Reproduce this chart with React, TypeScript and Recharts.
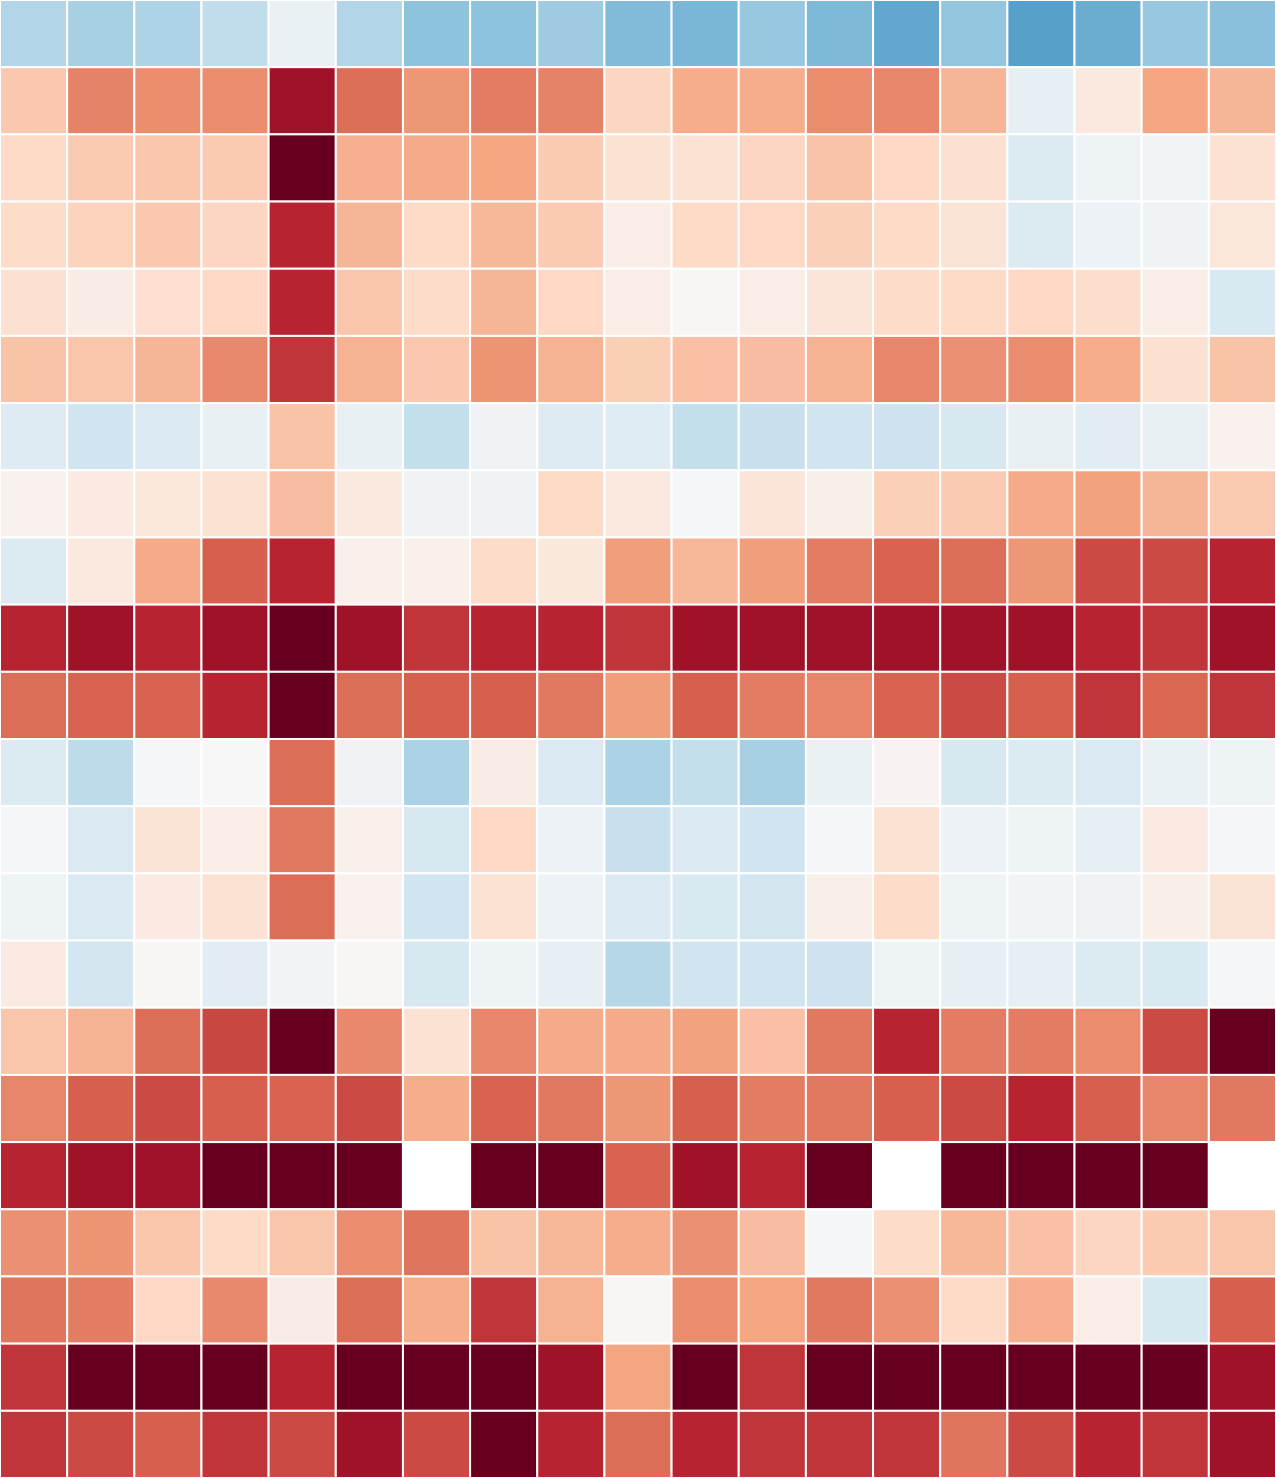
import { ScatterChart, Scatter, XAxis, YAxis } from 'recharts';

const WIDTH = 1276;
const HEIGHT = 1478;

const columns = Array.from({ length: 19 }, (_, i) => `C${i + 1}`);
const rowLabels = Array.from({ length: 22 }, (_, i) => `R${i + 1}`);

// one entry per row, one value per column (null = no data)
const values: (number | null)[][] = [
  [-0.3, -0.33, -0.31, -0.25, -0.07, -0.3, -0.41, -0.41, -0.36, -0.44, -0.46, -0.38, -0.45, -0.52, -0.4, -0.55, -0.5, -0.38, -0.42],
  [0.27, 0.5, 0.47, 0.47, 0.85, 0.56, 0.44, 0.52, 0.5, 0.22, 0.37, 0.37, 0.47, 0.49, 0.34, -0.09, 0.1, 0.4, 0.34],
  [0.2, 0.26, 0.28, 0.26, 1.0, 0.36, 0.38, 0.4, 0.26, 0.15, 0.15, 0.22, 0.29, 0.21, 0.16, -0.14, -0.05, -0.03, 0.15],
  [0.19, 0.23, 0.27, 0.22, 0.77, 0.34, 0.2, 0.33, 0.26, 0.07, 0.2, 0.21, 0.24, 0.2, 0.14, -0.14, -0.06, -0.04, 0.12],
  [0.16, 0.08, 0.17, 0.21, 0.77, 0.28, 0.19, 0.34, 0.21, 0.07, 0.01, 0.07, 0.13, 0.19, 0.2, 0.21, 0.18, 0.07, -0.16],
  [0.29, 0.28, 0.34, 0.48, 0.72, 0.35, 0.27, 0.45, 0.35, 0.25, 0.3, 0.31, 0.35, 0.49, 0.46, 0.47, 0.37, 0.16, 0.29],
  [-0.13, -0.2, -0.15, -0.08, 0.29, -0.08, -0.24, -0.04, -0.13, -0.12, -0.24, -0.23, -0.2, -0.21, -0.17, -0.08, -0.11, -0.08, 0.04],
  [0.04, 0.09, 0.12, 0.15, 0.31, 0.1, -0.04, -0.04, 0.2, 0.1, -0.01, 0.13, 0.06, 0.24, 0.26, 0.38, 0.41, 0.34, 0.26],
  [-0.14, 0.1, 0.38, 0.6, 0.77, 0.05, 0.05, 0.19, 0.11, 0.42, 0.33, 0.42, 0.52, 0.59, 0.56, 0.44, 0.66, 0.66, 0.77],
  [0.77, 0.85, 0.77, 0.85, 1.0, 0.85, 0.72, 0.77, 0.77, 0.72, 0.85, 0.85, 0.85, 0.85, 0.85, 0.85, 0.77, 0.72, 0.85],
  [0.56, 0.59, 0.59, 0.77, 1.0, 0.56, 0.6, 0.6, 0.53, 0.42, 0.6, 0.52, 0.49, 0.59, 0.66, 0.6, 0.72, 0.58, 0.72],
  [-0.14, -0.26, -0.01, 0.0, 0.56, -0.04, -0.32, 0.08, -0.15, -0.32, -0.24, -0.33, -0.07, 0.03, -0.17, -0.14, -0.15, -0.07, -0.05],
  [-0.01, -0.15, 0.14, 0.07, 0.53, 0.05, -0.17, 0.21, -0.06, -0.23, -0.15, -0.2, -0.01, 0.15, -0.06, -0.05, -0.09, 0.09, -0.01],
  [-0.05, -0.15, 0.09, 0.15, 0.56, 0.04, -0.2, 0.15, -0.06, -0.15, -0.16, -0.19, 0.06, 0.19, -0.05, -0.03, -0.04, 0.06, 0.14],
  [0.09, -0.19, 0.01, -0.11, -0.03, 0.01, -0.17, -0.05, -0.09, -0.29, -0.2, -0.2, -0.21, -0.05, -0.09, -0.09, -0.14, -0.16, -0.01],
  [0.28, 0.35, 0.56, 0.67, 1.0, 0.48, 0.15, 0.49, 0.38, 0.38, 0.41, 0.3, 0.53, 0.77, 0.52, 0.52, 0.47, 0.66, 1.0],
  [0.49, 0.6, 0.66, 0.6, 0.59, 0.66, 0.37, 0.59, 0.53, 0.44, 0.6, 0.52, 0.53, 0.6, 0.66, 0.77, 0.6, 0.49, 0.53],
  [0.77, 0.85, 0.85, 1.0, 1.0, 1.0, null, 1.0, 1.0, 0.59, 0.85, 0.77, 1.0, null, 1.0, 1.0, 1.0, 1.0, null],
  [0.46, 0.45, 0.28, 0.2, 0.28, 0.47, 0.54, 0.29, 0.33, 0.37, 0.46, 0.31, -0.01, 0.19, 0.33, 0.3, 0.22, 0.26, 0.28],
  [0.54, 0.52, 0.21, 0.48, 0.08, 0.56, 0.37, 0.72, 0.35, 0.01, 0.47, 0.4, 0.53, 0.46, 0.2, 0.36, 0.07, -0.17, 0.6],
  [0.72, 1.0, 1.0, 1.0, 0.77, 1.0, 1.0, 1.0, 0.85, 0.4, 1.0, 0.72, 1.0, 1.0, 1.0, 1.0, 1.0, 1.0, 0.85],
  [0.72, 0.66, 0.6, 0.72, 0.66, 0.85, 0.66, 1.0, 0.77, 0.56, 0.77, 0.72, 0.72, 0.72, 0.54, 0.66, 0.77, 0.72, 0.85],
];

// RdBu, from +1 (dark red) down to -1 (dark blue)
const rdBu = ['#67001f', '#b2182b', '#d6604d', '#f4a582', '#fddbc7', '#f7f7f7', '#d1e5f0', '#92c5de', '#4393c3', '#2166ac', '#053061'];

function hexToRgb(h: string) {
  const n = parseInt(h.slice(1), 16);
  return [(n >> 16) & 255, (n >> 8) & 255, n & 255];
}

function colorFor(v: number | null) {
  if (v === null) return '#ffffff';
  const t = Math.max(0, Math.min(1, (1 - v) / 2)) * (rdBu.length - 1);
  const i = Math.min(Math.floor(t), rdBu.length - 2);
  const f = t - i;
  const a = hexToRgb(rdBu[i]);
  const b = hexToRgb(rdBu[i + 1]);
  const c = a.map((x, k) => Math.round(x + (b[k] - x) * f));
  return `rgb(${c[0]},${c[1]},${c[2]})`;
}

const cells = values.flatMap((row, r) =>
  row.map((v, c) => ({ x: c + 0.5, y: r + 0.5, col: columns[c], row: rowLabels[r], v }))
);

const cellW = WIDTH / columns.length;
const cellH = HEIGHT / rowLabels.length;

function Cell(props: any) {
  const { cx, cy, payload } = props;
  return (
    <rect
      x={cx - cellW / 2}
      y={cy - cellH / 2}
      width={cellW}
      height={cellH}
      fill={colorFor(payload.v)}
      stroke="#fff"
      strokeWidth={2}
    />
  );
}

export default function App() {
  return (
    <div style={{ width: WIDTH, height: HEIGHT, background: '#fff' }}>
      <style>{`body{margin:0}`}</style>
      <ScatterChart width={WIDTH} height={HEIGHT} margin={{ top: 0, right: 0, bottom: 0, left: 0 }}>
        <XAxis type="number" dataKey="x" domain={[0, columns.length]} hide />
        <YAxis type="number" dataKey="y" domain={[0, rowLabels.length]} reversed hide />
        <Scatter data={cells} shape={<Cell />} isAnimationActive={false} />
      </ScatterChart>
    </div>
  );
}
